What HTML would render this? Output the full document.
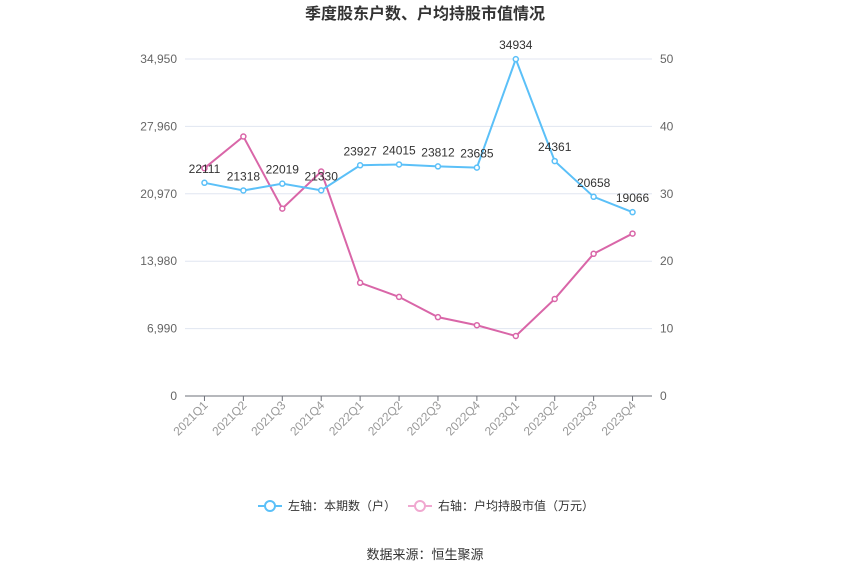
<!DOCTYPE html>
<html><head><meta charset="utf-8"><style>
body{margin:0;background:#fff;font-family:"Liberation Sans","Noto Sans CJK SC",sans-serif;}
svg text{font-family:"Liberation Sans","Noto Sans CJK SC",sans-serif;}
</style></head><body>
<svg id="c" width="850" height="575" xmlns="http://www.w3.org/2000/svg">
<text x="425" y="19" text-anchor="middle" font-size="16" font-weight="bold" fill="#333">季度股东户数、户均持股市值情况</text>
<g id="grid"></g><g id="axes"></g><g id="series"></g>
<g>
<g>
<line x1="258" y1="506" x2="282" y2="506" stroke="#5bc0f8" stroke-width="2"/>
<circle cx="270" cy="506" r="5" fill="#fff" stroke="#5bc0f8" stroke-width="2"/>
<text x="288" y="510" font-size="12" fill="#333">左轴：本期数（户）</text></g>
<g>
<line x1="408" y1="506" x2="432" y2="506" stroke="#f0a8d0" stroke-width="2"/>
<circle cx="420" cy="506" r="5" fill="#fff" stroke="#f0a8d0" stroke-width="2"/>
<text x="438" y="510" font-size="12" fill="#333">右轴：户均持股市值（万元）</text></g>
</g>
<text x="425" y="559" text-anchor="middle" font-size="13" fill="#333">数据来源：恒生聚源</text>
</svg>
<script>
const categories=["2021Q1","2021Q2","2021Q3","2021Q4","2022Q1","2022Q2","2022Q3","2022Q4","2023Q1","2023Q2","2023Q3","2023Q4"];
const holders=[22111,21318,22019,21330,23927,24015,23812,23685,34934,24361,20658,19066];
const avgValue=[33.8,38.5,27.8,33.3,16.8,14.7,11.7,10.5,8.9,14.4,21.1,24.1];
const leftTicks=[0,6990,13980,20970,27960,34950];
const leftTickLabels=["0","6,990","13,980","20,970","27,960","34,950"];
const rightTicks=[0,10,20,30,40,50];
const NS="http://www.w3.org/2000/svg";
const L=185,R=652,T=59,B=396;
const bw=(R-L)/categories.length;
const x=i=>L+bw*(i+0.5);
const yL=v=>B-(v/34950)*(B-T);
const yR=v=>B-(v/50)*(B-T);
function mk(tag,attrs,parent,txt){const e=document.createElementNS(NS,tag);for(const k in attrs)e.setAttribute(k,attrs[k]);if(txt!==undefined)e.textContent=txt;parent.appendChild(e);return e;}
const grid=document.getElementById('grid'),axes=document.getElementById('axes'),ser=document.getElementById('series');
leftTicks.forEach((t,i)=>{
 if(t>0){const g=mk('line',{x1:L,x2:R,y1:yL(t),y2:yL(t),stroke:'#e0e6f1'},grid);
 
 }
 const lt=mk('text',{x:L-8,y:yL(t)+4,'text-anchor':'end','font-size':12,fill:'#666'},axes,leftTickLabels[i]);
 
 
});
rightTicks.forEach(t=>{
 const rt=mk('text',{x:R+8,y:yR(t)+4,'font-size':12,fill:'#666'},axes,String(t));
 
 
});
const ax=mk('line',{x1:L,x2:R,y1:B,y2:B,stroke:'#6e7079'},axes);


categories.forEach((c,i)=>{
 mk('line',{x1:x(i),x2:x(i),y1:B,y2:B+5,stroke:'#6e7079'},axes);
 const t=mk('text',{x:x(i)+4,y:B+10,'text-anchor':'end','font-size':12,fill:'#999',transform:`rotate(-45 ${x(i)+4} ${B+10})`},axes,c);
 
 
});
function line(vals,yf,color,name){
 const p=mk('polyline',{points:vals.map((v,i)=>x(i)+','+yf(v)).join(' '),fill:'none',stroke:color,'stroke-width':2},ser);
 
 
 vals.forEach((v,i)=>{const c=mk('circle',{cx:x(i),cy:yf(v),r:2.5,fill:'#fff',stroke:color,'stroke-width':1.5},ser);
 
 });
}
line(avgValue,yR,'#d966a8','avg-value');
line(holders,yL,'#5bc0f8','holders');
holders.forEach((v,i)=>{const t=mk('text',{x:x(i),y:yL(v)-10,'text-anchor':'middle','font-size':12,fill:'#333'},ser,String(v));
 
 });
</script>
</body></html>
